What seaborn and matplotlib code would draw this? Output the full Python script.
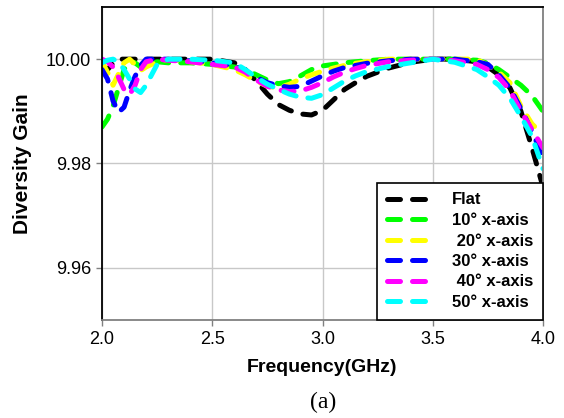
import matplotlib
matplotlib.use("Agg")
import matplotlib.pyplot as plt
import seaborn as sns
import pandas as pd

freq = [2.0, 2.025, 2.05, 2.075, 2.1, 2.125, 2.15, 2.175, 2.2, 2.25, 2.3, 2.4, 2.5,
        2.6, 2.65, 2.7, 2.75, 2.8, 2.85, 2.9, 2.95, 3.0, 3.05, 3.1, 3.15, 3.2, 3.3,
        3.4, 3.5, 3.6, 3.7, 3.75, 3.8, 3.85, 3.9, 3.95, 4.0]

flat = [9.9975, 9.998, 9.9992, 10.0, 10.0, 10.0, 10.0, 10.0, 10.0, 10.0, 10.0, 10.0, 10.0,
        9.9993, 9.998, 9.9958, 9.9933, 9.9913, 9.9902, 9.9895, 9.9893, 9.9902, 9.9922, 9.9942, 9.9955, 9.9967, 9.9983,
        9.9994, 10.0, 10.0, 9.9995, 9.9985, 9.997, 9.9945, 9.990, 9.983, 9.9755]
deg10 = [9.987, 9.9885, 9.991, 9.9945, 9.998, 9.9995, 9.9993, 9.9985, 9.999, 9.9995, 9.9993, 9.9993, 9.999,
         9.9985, 9.998, 9.997, 9.996, 9.9953, 9.9957, 9.9968, 9.998, 9.9987, 9.999, 9.9993, 9.9995, 9.9997, 10.0,
         10.0, 10.0, 10.0, 9.9998, 9.9992, 9.998, 9.9965, 9.995, 9.993, 9.990]
deg20 = [9.9995, 9.9975, 9.995, 9.9972, 9.9993, 10.0, 9.999, 9.9978, 9.9985, 9.9995, 10.0, 9.9995, 9.999,
         9.998, 9.997, 9.9958, 9.9948, 9.9945, 9.9952, 9.9962, 9.997, 9.9977, 9.9983, 9.9988, 9.9992, 9.9995, 10.0,
         10.0, 10.0, 10.0, 10.0, 9.9988, 9.9975, 9.9955, 9.991, 9.9876, 9.9855]
deg30 = [9.998, 9.9962, 9.992, 9.9898, 9.9908, 9.994, 9.9967, 9.9988, 10.0, 10.0, 10.0, 9.9997, 9.9993,
         9.9987, 9.9978, 9.9965, 9.9955, 9.9949, 9.9946, 9.9948, 9.9958, 9.9968, 9.9977, 9.9984, 9.9988, 9.9992, 9.9997,
         10.0, 10.0, 10.0, 9.9995, 9.999, 9.997, 9.9945, 9.9905, 9.9862, 9.9812]
deg40 = [10.0, 9.9995, 9.9985, 9.9965, 9.9942, 9.9932, 9.995, 9.998, 9.9995, 10.0, 9.9998, 9.9995, 9.999,
         9.9985, 9.9975, 9.996, 9.9948, 9.9941, 9.9938, 9.9939, 9.9946, 9.9955, 9.9966, 9.9975, 9.9982, 9.9988, 9.9995,
         9.9998, 10.0, 9.9997, 9.999, 9.998, 9.9965, 9.994, 9.990, 9.9865, 9.983]
deg50 = [9.9993, 9.9998, 10.0, 9.9995, 9.998, 9.9962, 9.9943, 9.9936, 9.995, 9.999, 10.0, 10.0, 9.9998,
         9.9993, 9.998, 9.9965, 9.9952, 9.9942, 9.9933, 9.9927, 9.9925, 9.9932, 9.9945, 9.9958, 9.9968, 9.9976, 9.9986,
         9.9993, 10.0, 9.9994, 9.998, 9.9966, 9.995, 9.9925, 9.989, 9.9852, 9.979]

labels = ["Flat", "10\u00b0 x-axis", " 20\u00b0 x-axis", "30\u00b0 x-axis", " 40\u00b0 x-axis", "50\u00b0 x-axis"]
colors = ["#000000", "#00ff00", "#ffff00", "#0000ff", "#ff00ff", "#00ffff"]
series = [flat, deg10, deg20, deg30, deg40, deg50]

xticks = [2.0, 2.5, 3.0, 3.5, 4.0]
yticks = [9.96, 9.98, 10.00]

sns.set_style("white")
plt.rcParams["font.family"] = ["Liberation Sans", "DejaVu Sans"]
plt.rcParams["text.color"] = "black"
plt.rcParams["axes.labelcolor"] = "black"

fig = plt.figure(figsize=(5.64, 4.18), dpi=100)
ax = fig.add_axes([102 / 564, 1 - 320 / 418, 441 / 564, 313 / 418])

for vals, lab, col in zip(series, labels, colors):
    df = pd.DataFrame({"freq": freq, "gain": vals})
    sns.lineplot(data=df, x="freq", y="gain", color=col, label=lab, ax=ax,
                 linewidth=3.6, legend=False)

for ln in ax.lines:
    ln.set_dashes((2.6, 2.4))
    ln.set_dash_capstyle("round")

ax.set_xlim(2.0, 4.0)
ax.set_ylim(9.95, 10.01)
ax.set_xticks(xticks)
ax.set_yticks(yticks)
ax.set_xticklabels([f"{t:.1f}" for t in xticks])
ax.set_yticklabels([f"{t:.2f}" for t in yticks])
ax.tick_params(axis="both", labelsize=13, length=4, width=1, color="#808080",
               labelcolor="black", direction="out", bottom=True, left=True, pad=4)
ax.grid(True, color="#c8c8c8", linewidth=1.0)
ax.set_axisbelow(True)

ax.spines["left"].set_color("black")
ax.spines["top"].set_color("black")
ax.spines["bottom"].set_color("#808080")
ax.spines["right"].set_color("#808080")
for s in ax.spines.values():
    s.set_linewidth(1.3)

ax.set_xlabel("Frequency(GHz)", fontsize=14, fontweight="bold", labelpad=8, color="black")
ax.set_ylabel("Diversity Gain", fontsize=15, fontweight="bold", labelpad=10, color="black")

leg = ax.legend(handles=ax.lines, labels=labels,
                loc="lower right", bbox_to_anchor=(1.0, 0.0), borderaxespad=0.0,
                prop={"size": 12, "weight": "bold"}, frameon=True, fancybox=False,
                framealpha=1.0, edgecolor="black", handlelength=2.8, handletextpad=1.1,
                labelspacing=0.33, borderpad=0.6)
leg.get_frame().set_linewidth(1.2)
for t in leg.get_texts():
    t.set_color("black")

fig.text(0.5725, 0.038, "(a)", ha="center", va="center", fontsize=17, color="black",
         family=["Liberation Serif", "DejaVu Serif"])

fig.savefig("out.png", dpi=100)
